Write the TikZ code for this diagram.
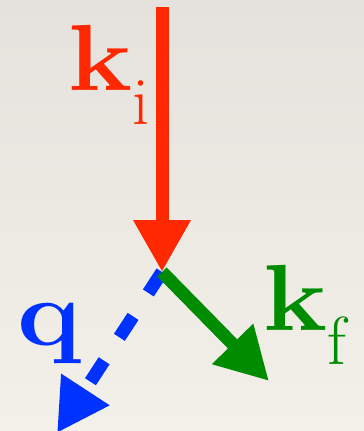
\documentclass[tikz,border=0pt]{standalone}
\usepackage{fontspec}
\usepackage{graphicx}
\usetikzlibrary{arrows.meta, positioning}
\definecolor{kired}{RGB}{255,40,0}
\definecolor{kfgreen}{RGB}{0,140,0}
\definecolor{qblue}{RGB}{0,50,255}
% wide bold letter with a lowered roman index
\newcommand{\bvec}[1]{\scalebox{1.15}[1]{\bfseries #1}}
\newcommand{\vidx}[1]{\kern0pt\raisebox{-34pt}{\fontsize{68}{68}\selectfont #1}}

\begin{document}
\begin{tikzpicture}[x=1pt, y=-1pt,
    vec/.style={line width=13pt, -{Triangle[length=52pt, width=54pt]}},
    lbl/.style={inner sep=0pt, anchor=base west, font=\fontsize{94}{94}\selectfont}]
\useasboundingbox[top color={rgb,255:red,229;green,226;blue,221},
    bottom color={rgb,255:red,243;green,240;blue,233}] (0,0) rectangle (364,431);

\coordinate (top) at (162,7);
\coordinate (vertex) at (162,272);
\coordinate (kfend) at (269,381);
\coordinate (qend) at (57,433);

\draw[vec, qblue, dash pattern=on 25pt off 28pt](vertex)--(qend);
\draw[vec, kired](top)--(vertex);
\draw[vec, kfgreen](vertex)--(kfend);

\node[lbl, kired] (ki) at (68,90){\bvec{k}\vidx{i}};
\node[lbl, kfgreen] (kf) at (263,330){\bvec{k}\vidx{f}};
\node[lbl, qblue] (q) at (17,345){\bvec{q}};
\end{tikzpicture}
\end{document}
